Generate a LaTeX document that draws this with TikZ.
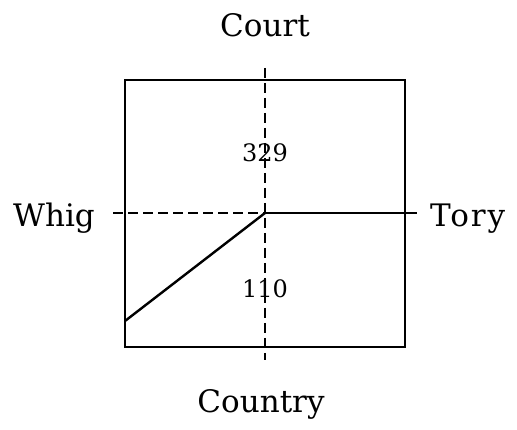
\documentclass[tikz,border=0pt]{standalone}
\usepackage{fontspec}
\setmainfont{DejaVu Serif}
\usepackage{tikz}
\usetikzlibrary{positioning}

\begin{document}
\begin{tikzpicture}[x=1pt,y=-1pt,every node/.style={inner sep=0pt}]
  \tikzstyle{axislabel} = [font=\fontsize{31}{36}\selectfont]
  \tikzstyle{widelabel} = [font=\fontsize{31}{36}\selectfont\addfontfeature{LetterSpace=6}]
  \tikzstyle{count} = [font=\fontsize{24}{28}\selectfont]
  \tikzstyle{frame} = [line width=2.4pt]
  \tikzstyle{axis} = [line width=2pt, dash pattern=on 10pt off 5pt]
  \useasboundingbox (0,0) rectangle (517,430);

  % box corners and axis end points (pixel grid of the scan)
  \coordinate (nw) at (125,80);
  \coordinate (se) at (405,347);
  \coordinate (o)  at (265,213);
  \coordinate (top) at (265,68);
  \coordinate (bot) at (265,360);
  \coordinate (lft) at (113,213);
  \coordinate (rgt) at (417,213);
  \coordinate (low) at (125,321);

  \node (court)   [axislabel, anchor=base]      at (265,37)  {Court};
  \node (country) [axislabel, anchor=base]      at (261,413) {Country};
  \node (whig)    [axislabel, anchor=base east] at (95,227)  {Whig};
  \node (tory)    [widelabel, anchor=base west] at (430,227) {Tory};

  \draw[frame] (nw) rectangle (se);
  \draw[axis] (top) -- (bot);
  \draw[axis] (lft) -- (o);
  \draw[frame] (o) -- (rgt);
  \draw[frame] (low) -- (o);

  \node (upper) [count, anchor=base] at (265,162) {329};
  \node (lower) [count, anchor=base] at (265,298) {110};
\end{tikzpicture}
\end{document}
